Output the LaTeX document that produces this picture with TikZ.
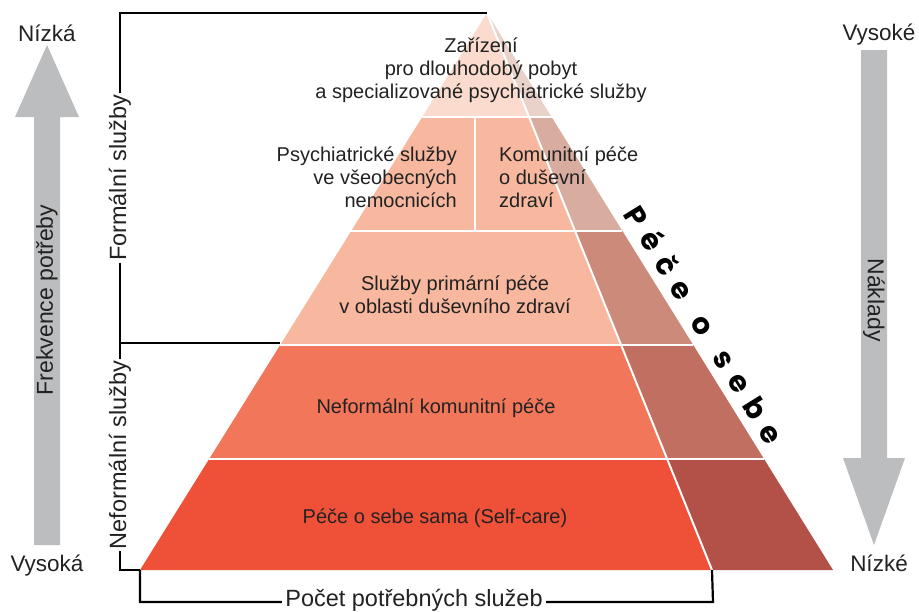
\documentclass[tikz,border=0pt]{standalone}
\usepackage{fontspec}
\setmainfont{Liberation Sans}
\newfontfamily\popfont{Poppins}
\usetikzlibrary{calc}
\definecolor{c1l}{HTML}{FADBCD}
\definecolor{c1r}{HTML}{E8D2CA}
\definecolor{c2l}{HTML}{F8B8A0}
\definecolor{c2r}{HTML}{D8AC9E}
\definecolor{c3l}{HTML}{F8B8A0}
\definecolor{c3r}{HTML}{CC8A7A}
\definecolor{c4l}{HTML}{F2765A}
\definecolor{c4r}{HTML}{C06F60}
\definecolor{c5l}{HTML}{EF5138}
\definecolor{c5r}{HTML}{B35047}
\definecolor{arrgray}{HTML}{BCBDBF}
\definecolor{ink}{HTML}{222222}
\begin{document}
\begin{tikzpicture}[x=1pt,y=-1pt,
  txt/.style={font=\fontsize{20}{23}\selectfont, text=ink, align=center, inner sep=0pt},
  side/.style={font=\fontsize{22.5}{26}\selectfont, text=ink, inner sep=0pt},
  brlabel/.style={font=\fontsize{23.5}{26}\selectfont, text=ink, fill=white, inner sep=2pt},
  bracket/.style={line width=2.2pt, black},
  sepline/.style={white, line width=2pt},
  arrowshape/.style={fill=arrgray, draw=none}]
\useasboundingbox (0,0) rectangle (919,611);
% pyramid key points
\coordinate (A) at (487,13);
\coordinate (BL) at (140,570);
\coordinate (BR) at (833,570);
\coordinate (BI) at (712,570);
\foreach \k/\f in {1/0.18671,2/0.39138,3/0.59605,4/0.80072}{
  \coordinate (L\k) at ($(A)!\f!(BL)$);
  \coordinate (R\k) at ($(A)!\f!(BR)$);
  \coordinate (I\k) at ($(A)!\f!(BI)$);
}
\coordinate (L5) at (BL); \coordinate (R5) at (BR); \coordinate (I5) at (BI);
% bands
\fill[c1l] (A) -- (I1) -- (L1) -- cycle;
\fill[c1r] (A) -- (R1) -- (I1) -- cycle;
\fill[c2l] (L1) -- (I1) -- (I2) -- (L2) -- cycle;
\fill[c2r] (I1) -- (R1) -- (R2) -- (I2) -- cycle;
\fill[c3l] (L2) -- (I2) -- (I3) -- (L3) -- cycle;
\fill[c3r] (I2) -- (R2) -- (R3) -- (I3) -- cycle;
\fill[c4l] (L3) -- (I3) -- (I4) -- (L4) -- cycle;
\fill[c4r] (I3) -- (R3) -- (R4) -- (I4) -- cycle;
\fill[c5l] (L4) -- (I4) -- (I5) -- (L5) -- cycle;
\fill[c5r] (I4) -- (R4) -- (R5) -- (I5) -- cycle;
% white separators
\foreach \k in {1,2,3,4}{ \draw[sepline] (L\k) -- (R\k); }
\draw[sepline] (A) -- (BI);
\coordinate (D1) at (475,117);
\coordinate (D2) at (475,231);
\draw[sepline] (D1) -- (D2);
% texts in pyramid
\node[txt] (t1) at (481,70) {Zařízení\\pro dlouhodobý pobyt\\a specializované psychiatrické služby};
\node[txt, anchor=east, align=right] (t2a) at (457,177) {Psychiatrické služby\\ve všeobecných\\nemocnicích};
\node[txt, anchor=west, align=left] (t2b) at (499,177) {Komunitní péče\\o duševní\\zdraví};
\node[txt] (t3) at (455,295) {Služby primární péče\\v oblasti duševního zdraví};
\node[txt] (t4) at (436,408) {Neformální komunitní péče};
\node[txt] (t5) at (435,518) {Péče o sebe sama (Self-care)};
% self-care label along the edge
\node[rotate=-58.15, inner sep=0pt, font=\popfont\bfseries\fontsize{29}{32}\selectfont, text=black] (pece) at (705,324)
  {P\kern11pt é\kern11pt č\kern11pt e\kern23pt o\kern23pt s\kern11pt e\kern11pt b\kern11pt e};
% brackets
\coordinate (fTop) at (120,13);
\coordinate (fMid) at (120,343);
\coordinate (fEnd) at (280,343);
\coordinate (nBot) at (120,570);
\draw[bracket] (A) -- (fTop) -- (fMid) -- (fEnd);
\draw[bracket] (fMid) -- (nBot) -- (BL);
\coordinate (cL) at (140,602);
\coordinate (cR) at (713,602);
\draw[bracket] (BL) -- (cL) -- (cR) -- (BI);
\node[brlabel, rotate=90] (formal) at (120,178) {Formální služby};
\node[brlabel, rotate=90] (neformal) at (120,455) {Neformální služby};
\node[brlabel, inner sep=3pt] (pocet) at (414,600) {Počet potřebných služeb};
% left arrow
\fill[arrowshape] (34,545) -- (34,117) -- (15,117) -- (47,45) -- (79,117) -- (60,117) -- (60,545) -- cycle;
\node[side] (nizka) at (47,33) {Nízká};
\node[side] (vysoka) at (47,566) {Vysoká};
\node[side, rotate=90, font=\fontsize{23}{26}\selectfont] (frek) at (47,300) {Frekvence potřeby};
% right arrow
\fill[arrowshape] (861,50) -- (887,50) -- (887,458) -- (905,458) -- (874,545) -- (843,458) -- (861,458) -- cycle;
\node[side] (vysoke) at (879,35) {Vysoké};
\node[side] (nizke) at (879,563) {Nízké};
\node[side, rotate=-90, font=\fontsize{23}{26}\selectfont] (naklady) at (874,300) {Náklady};
\end{tikzpicture}
\end{document}
